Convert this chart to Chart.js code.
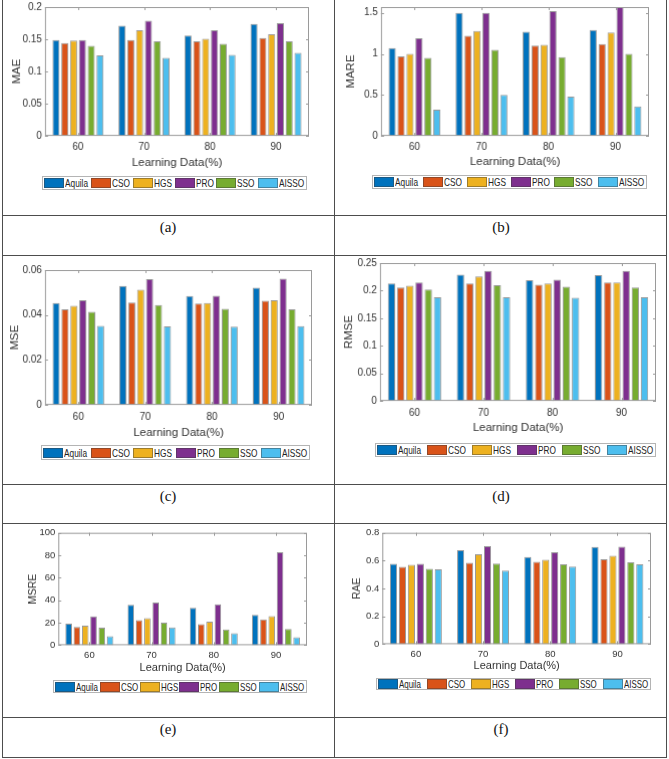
<!DOCTYPE html>
<html>
<head>
<meta charset="utf-8">
<script src="https://cdn.jsdelivr.net/npm/chart.js@4.4.1/dist/chart.umd.min.js"></script>
<style>
  body { margin: 0; background: #fff; }
  #page { position: relative; width: 669px; height: 759px; overflow: hidden; }
  .hl, .vl { position: absolute; background: #4d4d4d; }
  .hl { height: 1px; }
  .vl { width: 1px; }
  canvas.plot { position: absolute; }
  .legend {
    position: absolute; box-sizing: border-box; border: 1px solid #b4b4b4; background: #fff;
    display: flex; align-items: center; justify-content: space-between; padding: 0 2px 0 1px;
    font-family: "Liberation Sans", Arial, sans-serif; color: #222;
  }
  .legend .it { display: flex; align-items: center; white-space: nowrap; }
  .legend .sw { display: inline-block; width: 20px; height: 10px; box-sizing: border-box; border: 1px solid rgba(60,60,60,0.45); margin-right: 1px; }
  .legend .tx { display: inline-block; transform-origin: 0 50%; }
  .cap { position: absolute; font-family: "Liberation Serif", "Times New Roman", serif; font-size: 15px; color: #111; transform: translate(-50%, -50%); }
</style>
</head>
<body>
<div id="page"></div>
<script>
// categorias y metodos
const categories = ['60', '70', '80', '90'];
const methods = ['Aquila', 'CSO', 'HGS', 'PRO', 'SSO', 'AISSO'];

// valores por metodo (filas) y porcentaje de aprendizaje (columnas)
const maeValues = [
  [0.149, 0.171, 0.156, 0.174],
  [0.144, 0.149, 0.147, 0.152],
  [0.148, 0.164, 0.151, 0.158],
  [0.149, 0.179, 0.164, 0.175],
  [0.140, 0.147, 0.143, 0.147],
  [0.125, 0.121, 0.126, 0.129]
];
const mareValues = [
  [1.07, 1.50, 1.27, 1.29],
  [0.97, 1.22, 1.10, 1.12],
  [1.00, 1.28, 1.11, 1.26],
  [1.19, 1.50, 1.52, 1.62],
  [0.95, 1.05, 0.96, 1.00],
  [0.32, 0.50, 0.48, 0.36]
];
const mseValues = [
  [0.0454, 0.0529, 0.0485, 0.0522],
  [0.0426, 0.0456, 0.0451, 0.0464],
  [0.0441, 0.0513, 0.0454, 0.0466],
  [0.0466, 0.0560, 0.0486, 0.0562],
  [0.0414, 0.0445, 0.0428, 0.0426],
  [0.0352, 0.0349, 0.0348, 0.0351]
];
const rmseValues = [
  [0.213, 0.229, 0.219, 0.228],
  [0.206, 0.213, 0.211, 0.215],
  [0.209, 0.226, 0.213, 0.215],
  [0.215, 0.236, 0.220, 0.236],
  [0.202, 0.210, 0.207, 0.206],
  [0.188, 0.188, 0.187, 0.188]
];
const msreValues = [
  [19.1, 35.9, 33.2, 27.0],
  [16.3, 22.4, 18.8, 22.9],
  [17.4, 24.1, 20.9, 25.9],
  [25.6, 37.9, 36.5, 82.8],
  [15.6, 20.0, 14.1, 14.4],
  [8.0, 15.9, 10.6, 7.0]
];
const raeValues = [
  [0.578, 0.675, 0.627, 0.699],
  [0.556, 0.585, 0.592, 0.610],
  [0.571, 0.646, 0.607, 0.636],
  [0.578, 0.704, 0.661, 0.701],
  [0.541, 0.579, 0.573, 0.589],
  [0.537, 0.529, 0.558, 0.573]
];

// marcas del eje Y
const maeTicks = [0, 0.05, 0.1, 0.15, 0.2];
const mareTicks = [0, 0.5, 1, 1.5];
const mseTicks = [0, 0.02, 0.04, 0.06];
const rmseTicks = [0, 0.05, 0.1, 0.15, 0.2, 0.25];
const msreTicks = [0, 20, 40, 60, 80, 100];
const raeTicks = [0, 0.2, 0.4, 0.6, 0.8];

const xTitle = 'Learning Data(%)';
const colores = ['#0072BD', '#D95319', '#EDB120', '#7E2F8E', '#77AC30', '#4DBEEE'];

// paneles: posicion del area de dibujo en la pagina
const paneles = [
  { metric: 'MAE', values: maeValues, ticks: maeTicks, max: 0.2, caption: '(a)',
    plot: { l: 45, t: 6, r: 309, b: 136 }, yTitleX: 17, tickPad: 5.5, xTitleY: 163,
    tickSize: 10, titleSize: 11.5, xTitleSize: 11.5, legend: { l: 42, t: 176, w: 265, h: 14, size: 11.5 }, cap: { x: 168, y: 227 } },
  { metric: 'MARE', values: mareValues, ticks: mareTicks, max: 1.57, caption: '(b)',
    plot: { l: 381, t: 6, r: 649, b: 136 }, yTitleX: 351, tickPad: 5.5, xTitleY: 162,
    tickSize: 10, titleSize: 11.5, xTitleSize: 11.5, legend: { l: 372, t: 175, w: 275, h: 14, size: 11.5 }, cap: { x: 501, y: 227 } },
  { metric: 'MSE', values: mseValues, ticks: mseTicks, max: 0.06, caption: '(c)',
    plot: { l: 45, t: 269, r: 312, b: 405 }, yTitleX: 15, tickPad: 6.5, xTitleY: 433,
    tickSize: 10, titleSize: 11.5, xTitleSize: 11.5, legend: { l: 41, t: 445, w: 269, h: 15, size: 11.5 }, cap: { x: 168, y: 496 } },
  { metric: 'RMSE', values: rmseValues, ticks: rmseTicks, max: 0.25, caption: '(d)',
    plot: { l: 380, t: 262, r: 656, b: 401 }, yTitleX: 349, tickPad: 6.5, xTitleY: 428,
    tickSize: 10, titleSize: 11.5, xTitleSize: 11.5, legend: { l: 375, t: 443, w: 281, h: 14, size: 11.5 }, cap: { x: 501, y: 496 } },
  { metric: 'MSRE', values: msreValues, ticks: msreTicks, max: 100, caption: '(e)',
    plot: { l: 58, t: 532, r: 307, b: 645 }, yTitleX: 33, tickPad: 4.5, xTitleY: 668,
    tickSize: 9.5, titleSize: 10.5, xTitleSize: 11, legend: { l: 53, t: 680, w: 254, h: 13, size: 11 }, cap: { x: 168, y: 729 } },
  { metric: 'RAE', values: raeValues, ticks: raeTicks, max: 0.8, caption: '(f)',
    plot: { l: 382, t: 532, r: 651, b: 644 }, yTitleX: 357, tickPad: 4, xTitleY: 666,
    tickSize: 9.5, titleSize: 10.5, xTitleSize: 11, legend: { l: 376, t: 678, w: 275, h: 12, size: 11 }, cap: { x: 501, y: 729 } }
];

const page = document.getElementById('page');

// lineas de la tabla
[215, 255, 484, 523, 717, 757].forEach(y => {
  const d = document.createElement('div');
  d.className = 'hl';
  d.style.cssText = `left:2px;top:${y}px;width:665px;`;
  page.appendChild(d);
});
[2, 334, 666].forEach(x => {
  const d = document.createElement('div');
  d.className = 'vl';
  d.style.cssText = `left:${x}px;top:0px;height:758px;`;
  page.appendChild(d);
});

// marco tipo MATLAB con marcas hacia dentro
const marcoPlugin = {
  id: 'marco',
  afterDraw(chart) {
    const { ctx, chartArea: a, scales: { x, y } } = chart;
    ctx.save();
    ctx.strokeStyle = '#9a9a9a';
    ctx.lineWidth = 1;
    ctx.strokeRect(a.left + 0.5, a.top + 0.5, a.width - 1, a.height - 1);
    ctx.beginPath();
    y.ticks.forEach(t => {
      const py = Math.round(y.getPixelForValue(t.value)) + 0.5;
      ctx.moveTo(a.left, py); ctx.lineTo(a.left + 3, py);
      ctx.moveTo(a.right, py); ctx.lineTo(a.right - 3, py);
    });
    x.ticks.forEach((t, i) => {
      const px = Math.round(x.getPixelForTick(i)) + 0.5;
      ctx.moveTo(px, a.bottom); ctx.lineTo(px, a.bottom - 3);
      ctx.moveTo(px, a.top); ctx.lineTo(px, a.top + 3);
    });
    ctx.stroke();
    ctx.restore();
  }
};

const fuente = '"Liberation Sans", Arial, sans-serif';

paneles.forEach(p => {
  const padTop = 8, padRight = 6;
  const yTitleLH = p.titleSize * 1.2;
  const xTitleLH = p.xTitleSize * 1.2;
  const cLeft = p.yTitleX - yTitleLH / 2;
  const cTop = p.plot.t - padTop;
  const cRight = p.plot.r + padRight;
  const cBottom = p.xTitleY + xTitleLH / 2;
  const W = p.plot.l - cLeft;
  const xH = cBottom - p.plot.b;

  const canvas = document.createElement('canvas');
  canvas.className = 'plot';
  canvas.style.left = cLeft + 'px';
  canvas.style.top = cTop + 'px';
  canvas.style.width = (cRight - cLeft) + 'px';
  canvas.style.height = (cBottom - cTop) + 'px';
  canvas.width = cRight - cLeft;
  canvas.height = cBottom - cTop;
  page.appendChild(canvas);

  new Chart(canvas.getContext('2d'), {
    type: 'bar',
    data: {
      labels: categories,
      datasets: methods.map((m, i) => ({
        label: m,
        data: p.values[i],
        backgroundColor: colores[i],
        borderColor: 'rgba(50,50,50,0.5)',
        borderWidth: 1,
        categoryPercentage: 0.8,
        barPercentage: 0.8
      }))
    },
    options: {
      responsive: false,
      animation: false,
      layout: { padding: { top: padTop, right: padRight, left: 0, bottom: 0 } },
      plugins: { legend: { display: false }, tooltip: { enabled: false } },
      scales: {
        x: {
          grid: { display: false, drawTicks: false },
          border: { display: false },
          ticks: { color: '#333', font: { family: fuente, size: p.tickSize }, padding: p.tickPad, maxRotation: 0 },
          title: { display: true, text: xTitle, color: '#333', padding: 0, font: { family: fuente, size: p.xTitleSize } },
          afterFit: s => { s.height = xH; }
        },
        y: {
          min: 0,
          max: p.max,
          grid: { display: false, drawTicks: false },
          border: { display: false },
          afterBuildTicks: s => { s.ticks = p.ticks.map(v => ({ value: v })); },
          ticks: {
            color: '#333', font: { family: fuente, size: p.tickSize }, padding: 3,
            callback: v => String(+v.toFixed(4))
          },
          title: { display: true, text: p.metric, color: '#333', padding: 0, font: { family: fuente, size: p.titleSize } },
          afterFit: s => { s.width = W; }
        }
      }
    },
    plugins: [marcoPlugin]
  });

  // leyenda
  const leg = document.createElement('div');
  leg.className = 'legend';
  leg.style.cssText = `left:${p.legend.l}px;top:${p.legend.t}px;width:${p.legend.w}px;height:${p.legend.h}px;font-size:${p.legend.size}px;`;
  page.appendChild(leg);
  methods.forEach((m, i) => {
    const it = document.createElement('span');
    it.className = 'it';
    it.innerHTML = `<span class="sw" style="background:${colores[i]}"></span><span class="tx">${m}</span>`;
    leg.appendChild(it);
    // texto estrecho como en la figura original
    const tx = it.querySelector('.tx');
    const w = tx.getBoundingClientRect().width;
    tx.style.transform = 'scaleX(0.72)';
    tx.style.marginRight = (-w * 0.28) + 'px';
  });

  // rotulo
  const cap = document.createElement('div');
  cap.className = 'cap';
  cap.style.left = p.cap.x + 'px';
  cap.style.top = p.cap.y + 'px';
  cap.textContent = p.caption;
  page.appendChild(cap);
});
</script>
</body>
</html>
